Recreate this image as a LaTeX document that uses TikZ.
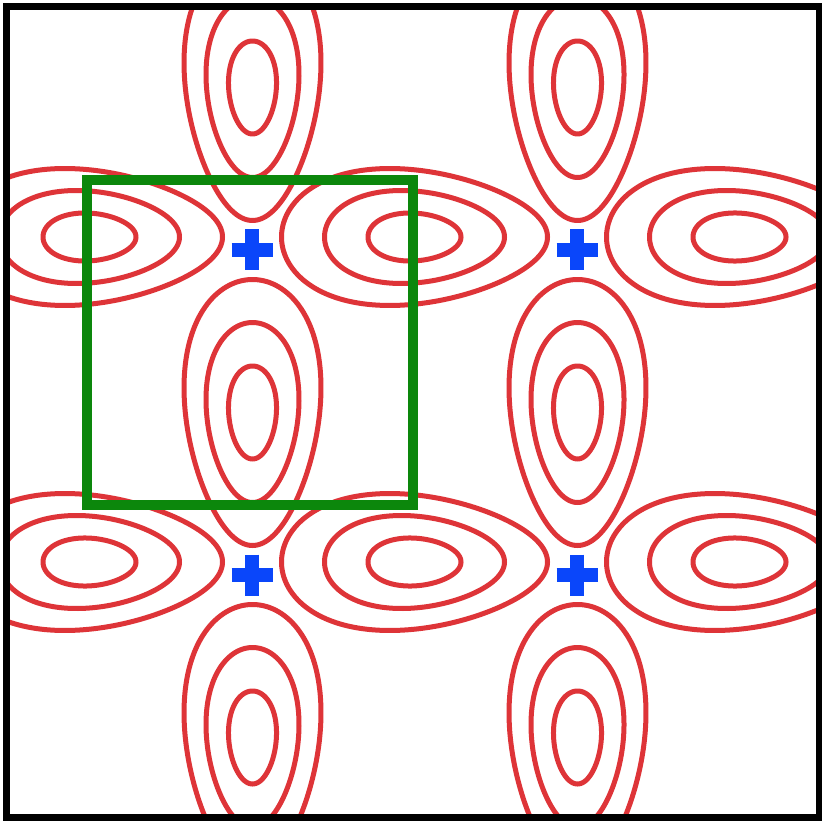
\documentclass[tikz,border=0pt]{standalone}
\begin{document}
\begin{tikzpicture}[x=0.5pt,y=-0.5pt]
\definecolor{eggred}{RGB}{222,52,56}
\definecolor{plusblue}{RGB}{10,70,250}
\definecolor{cellgreen}{RGB}{12,135,12}
\tikzset{
  contour/.style={draw=eggred, line width=2.5pt, line join=round},
  frame/.style={draw=black, line width=3.3pt},
  cell/.style={draw=cellgreen, line width=4.8pt},
  plusarm/.style={draw=plusblue, line width=6.8pt, line cap=butt},
  hegg/.pic={
    \foreach \a/\b/\k in {133/67.2/0.2, 90/46/0.15, 46.5/23.9/0.1}
      \draw[contour] plot[domain=0:360, samples=160, smooth]
        ({\a*cos(\x)}, {\b*sin(\x)*(1-\k*cos(\x))}) -- cycle;
  },
  vegg/.pic={
    \foreach \a/\b/\k in {133/67.2/0.2, 90/46/0.15, 46.5/23.9/0.1}
      \draw[contour] plot[domain=0:360, samples=160, smooth]
        ({\b*sin(\x)*(1-\k*cos(\x))}, {\a*cos(\x)}) -- cycle;
  },
  plussign/.pic={
    \draw[plusarm] (-20.5,0) -- (20.5,0);
    \draw[plusarm] (0,-20.5) -- (0,20.5);
  }
}
\useasboundingbox (0,0) rectangle (822,823);
\fill[white] (0,0) rectangle (822,823);
\begin{scope}
  \clip (9,9) rectangle (816,815);
  \foreach \cx in {89.5,414.5,739.5}
    \foreach \cy in {237,562}
      \pic at (\cx,\cy) {hegg};
  \foreach \cx in {252.5,577.5}
    \foreach \cy in {87.5,412.5,737.5}
      \pic at (\cx,\cy) {vegg};
\end{scope}
\node[draw=none, inner sep=0pt, minimum size=0pt] (cellA) at (87,180) {};
\node[draw=none, inner sep=0pt, minimum size=0pt] (cellB) at (413,505) {};
\draw[cell] (cellA) rectangle (cellB);
\foreach \px in {252,577}
  \foreach \py in {250,575}
    \pic at (\px,\py) {plussign};
\draw[frame] (6.5,6.5) rectangle (819,817.5);
\end{tikzpicture}
\end{document}
